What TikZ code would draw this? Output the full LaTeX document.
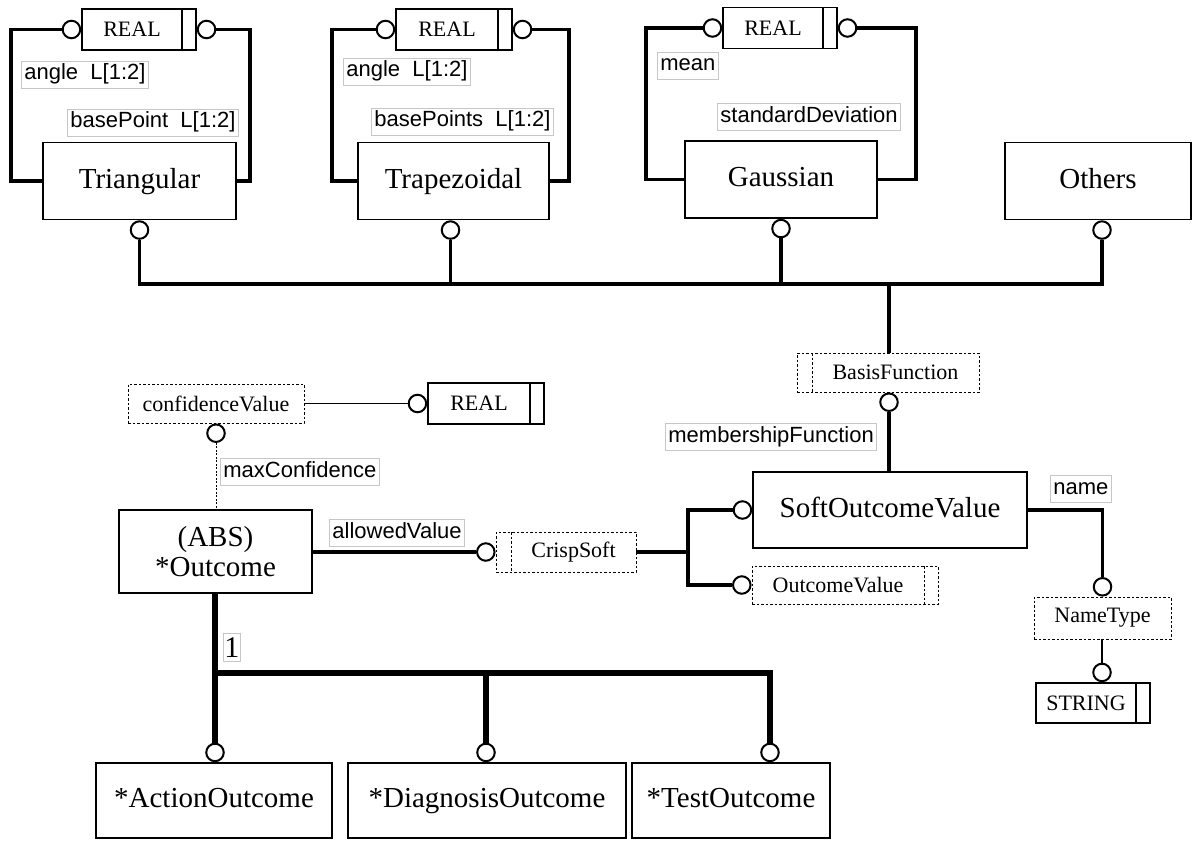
\documentclass[tikz,border=0pt]{standalone}
\usepackage{fontspec}
\setmainfont{Liberation Serif}
\setsansfont{Liberation Sans}
\newcommand\entfont{\fontsize{29}{31}\selectfont}
\newcommand\typfont{\fontsize{22}{24}\selectfont}
\newcommand\lblfont{\sffamily\fontsize{22}{24}\selectfont}
\begin{document}
\begin{tikzpicture}[x=1pt, y=-1pt, line join=miter,
  entbox/.style={draw, line width=1.6pt, inner sep=0pt, minimum height=77pt, font=\entfont},
  entity/.style={entbox, text height=20pt, text depth=6pt},
  simpletype/.style={draw, line width=1.6pt, inner sep=0pt, minimum height=41pt, font=\typfont,
    execute at end node={\hspace{14pt}},
    path picture={\draw[line width=1.6pt] ([xshift=-14pt]path picture bounding box.north east) -- ([xshift=-14pt]path picture bounding box.south east);}},
  deftype/.style={draw, dash pattern=on 2.5pt off 2pt, line width=0.9pt, inner sep=0pt, minimum height=39pt, font=\typfont},
  selecttype/.style={deftype, execute at begin node={\hspace{15pt}},
    path picture={\draw[dash pattern=on 2.5pt off 2pt, line width=0.9pt] ([xshift=15pt]path picture bounding box.north west) -- ([xshift=15pt]path picture bounding box.south west);}},
  enumtype/.style={deftype, execute at end node={\hspace{14pt}},
    path picture={\draw[dash pattern=on 2.5pt off 2pt, line width=0.9pt] ([xshift=-14pt]path picture bounding box.north east) -- ([xshift=-14pt]path picture bounding box.south east);}},
  role/.style={draw=black!22, line width=0.8pt, fill=white, font=\lblfont, inner xsep=3pt, inner ysep=3pt, text height=16pt, text depth=5pt, anchor=west},
  ring/.style={circle, draw, line width=2pt, fill=white, inner sep=0pt, minimum size=17.5pt},
  rel/.style={line width=3.5pt},
  sub/.style={line width=6pt},
  thinrel/.style={line width=1.6pt}]
\useasboundingbox (0,0) rectangle (1193,840);
\node[entity, minimum width=193pt] at (139.5, 181) (tri) {Triangular};
\node[entity, minimum width=191pt] at (453.5, 181) (trap) {Trapezoidal};
\node[entity, minimum width=192pt] at (781, 179.5) (gauss) {Gaussian};
\node[entity, minimum width=186pt] at (1098, 181) (others) {Others};
\node[simpletype, minimum width=114pt] at (139, 29.5) (real1) {REAL};
\node[simpletype, minimum width=116pt] at (454, 29.5) (real2) {REAL};
\node[simpletype, minimum width=114pt] at (780, 28) (real3) {REAL};
\node[selecttype, minimum width=182pt] at (888, 372.5) (basis) {BasisFunction};
\node[deftype, minimum width=176pt] at (216, 403.5) (conf) {confidenceValue};
\node[simpletype, minimum width=116pt] at (486, 403.5) (real4) {REAL};
\node[entbox, minimum width=193pt, minimum height=83pt, align=center, font=\fontsize{29}{30}\selectfont] at (215.5, 551.5) (outcome) {(ABS)\\*Outcome};
\node[selecttype, minimum width=140pt, minimum height=40pt] at (566, 552) (crisp) {CrispSoft};
\node[entity, minimum width=274pt, minimum height=76pt] at (890, 510) (soft) {SoftOutcomeValue};
\node[enumtype, minimum width=186pt, minimum height=38pt] at (845, 585) (ovalue) {OutcomeValue};
\node[deftype, minimum width=137pt, minimum height=42pt] at (1102.5, 618) (ntype) {NameType};
\node[simpletype, minimum width=114pt, minimum height=40pt] at (1093, 703) (string) {STRING};
\node[entity, minimum width=236pt, minimum height=75pt] at (214, 800.5) (action) {*ActionOutcome};
\node[entity, minimum width=278pt, minimum height=75pt] at (487, 800.5) (diag) {*DiagnosisOutcome};
\node[entity, minimum width=198pt, minimum height=75pt] at (731, 800.5) (test) {*TestOutcome};

\node[ring, anchor=east] at (real1.west) (r1a) {};
\node[ring, anchor=west] at (real1.east) (r1b) {};
\node[ring, anchor=east] at (real2.west) (r2a) {};
\node[ring, anchor=west] at (real2.east) (r2b) {};
\node[ring, anchor=east] at (real3.west) (r3a) {};
\node[ring, anchor=west] at (real3.east) (r3b) {};
\node[ring, anchor=north] at (tri.south) (ctri) {};
\node[ring, anchor=north] at ([xshift=-3pt]trap.south) (ctrap) {};
\node[ring, anchor=north] at (gauss.south) (cgauss) {};
\node[ring, anchor=north] at ([xshift=4pt]others.south) (cothers) {};
\node[ring, anchor=north] at ([xshift=1pt]basis.south) (cbasis) {};
\node[ring, anchor=east] at (real4.west) (creal) {};
\node[ring, anchor=north] at (conf.south) (cconf) {};
\node[ring, anchor=east] at (crisp.west) (ccrisp) {};
\node[ring, anchor=east] at (soft.west) (csoft) {};
\node[ring, anchor=east] at (ovalue.west) (cvalue) {};
\node[ring, anchor=south] at (ntype.north) (cname) {};
\node[ring, anchor=south] at ([xshift=9pt]string.north) (cstring) {};
\node[ring, anchor=south] at ([xshift=1pt]action.north) (cact) {};
\node[ring, anchor=south] at ([xshift=-1pt]diag.north) (cdiag) {};
\node[ring, anchor=south] at ([xshift=39pt]test.north) (ctest) {};

\coordinate (bus) at (889, 284);
\coordinate (fork) at (688, 552);
\coordinate (sbus) at (215, 673);

\draw[rel] (r1a.west) -| ([xshift=-31pt]tri.west) -- (tri.west);
\draw[rel] (r1b.east) -| ([xshift=13pt]tri.east) -- (tri.east);
\draw[rel] (r2a.west) -| ([xshift=-25pt]trap.west) -- (trap.west);
\draw[rel] (r2b.east) -| ([xshift=19pt]trap.east) -- (trap.east);
\draw[rel] (r3a.west) -| ([xshift=-38pt]gauss.west) -- (gauss.west);
\draw[rel] (r3b.east) -| ([xshift=38pt]gauss.east) -- (gauss.east);
\draw[rel] (ctri.south) -- (ctri.south |- bus) -- (cothers.south |- bus) -- (cothers.south);
\draw[rel] (ctrap.south) -- (ctrap.south |- bus);
\draw[rel] (cgauss.south) -- (cgauss.south |- bus);
\draw[rel] (bus) -- (bus |- basis.north);
\draw[rel] (cbasis.south) -- (cbasis.south |- soft.north);
\draw[thinrel] (conf.east) -- (creal.west);
\draw[dash pattern=on 2pt off 1.5pt, line width=0.9pt] (cconf.south) -- (cconf.south |- outcome.north);
\draw[rel] (outcome.east |- ccrisp) -- (ccrisp.west);
\draw[rel] (crisp.east) -- (fork);
\draw[rel] (csoft.west) -| (fork) |- (cvalue.west);
\draw[rel] (soft.east) -| (cname.north);
\draw[thinrel] (cstring.north |- ntype.south) -- (cstring.north);
\draw[sub] (sbus |- outcome.south) -- (cact.north);
\draw[sub] (sbus) -| (ctest.north);
\draw[sub] (cdiag.north |- sbus) -- (cdiag.north);

\node[role] at (21, 74.5) (ang1) {angle\ \ L[1:2]};
\node[role] at (67, 122.5) (base1) {basePoint\ \ L[1:2]};
\node[role] at (343, 71.5) (ang2) {angle\ \ L[1:2]};
\node[role] at (371, 121.5) (base2) {basePoints\ \ L[1:2]};
\node[role] at (657, 65.5) (mean) {mean};
\node[role] at (717, 117) (sdev) {standardDeviation};
\node[role] at (665, 437) (member) {membershipFunction};
\node[role] at (220, 472) (maxconf) {maxConfidence};
\node[role] at (329, 532.5) (allowed) {allowedValue};
\node[role] at (1050, 488.5) (name) {name};
\node[role, font=\fontsize{30}{30}\selectfont, inner xsep=1pt, text height=20pt, text depth=0pt, inner ysep=4pt] at (223, 647.5) (one) {1};
\end{tikzpicture}
\end{document}
